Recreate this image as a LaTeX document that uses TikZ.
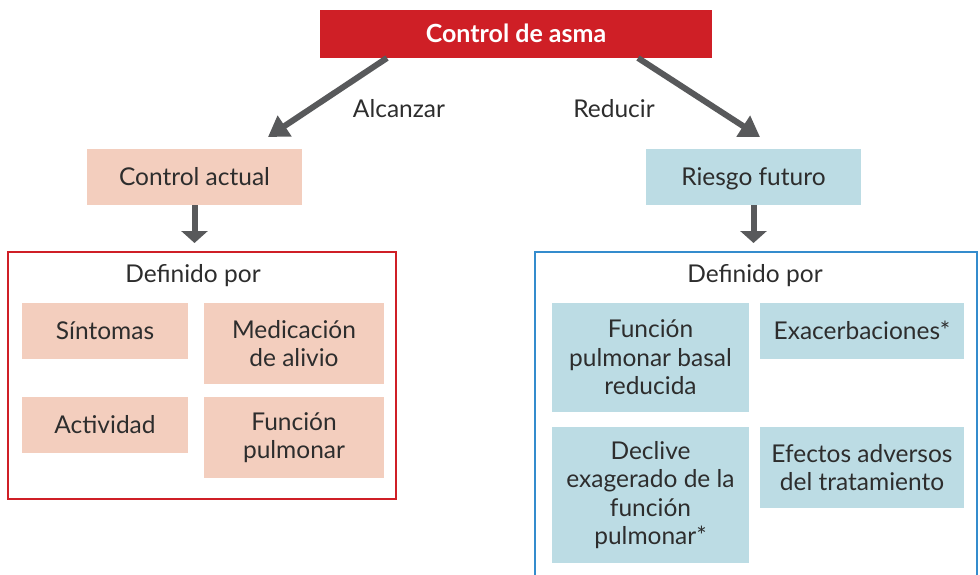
\documentclass[tikz,border=0pt]{standalone}
\usepackage{fontspec}
\setmainfont{Lato}
\usetikzlibrary{arrows.meta}
\definecolor{titlered}{RGB}{207,31,38}
\definecolor{peach}{RGB}{243,206,190}
\definecolor{lblue}{RGB}{188,220,228}
\definecolor{frameblue}{RGB}{52,140,205}
\definecolor{arrgray}{RGB}{88,89,91}
\definecolor{txt}{RGB}{45,45,45}
\begin{document}
\begin{tikzpicture}[x=1pt,y=-1pt,
  every node/.style={inner sep=0pt, outer sep=0pt, text=txt, font=\fontsize{24.5}{28.5}\selectfont, align=center},
  oneline/.style={text height=17.6pt, text depth=0.5pt},
  pbox/.style={fill=peach, draw=none},
  bbox/.style={fill=lblue, draw=none},
  diag/.style={draw=arrgray, line width=6pt, -{Triangle[width=24pt,length=20pt]}},
  down/.style={draw=arrgray, line width=6pt, -{Triangle[width=26pt,length=12pt]}}
]
\useasboundingbox (0,0) rectangle (980,575);
% title
\node[fill=titlered, minimum width=392pt, minimum height=48pt, text=white, oneline, font=\fontsize{25}{28}\selectfont\bfseries] (title) at (516,34) {Control de asma};
% level 2
\node[pbox, oneline, minimum width=215pt, minimum height=56pt] (ca) at (194.5,177) {Control actual};
\node[bbox, oneline, minimum width=215pt, minimum height=56pt] (rf) at (753.5,177) {Riesgo futuro};
% labels
\node[oneline] (alc) at (399,109) {Alcanzar};
\node[oneline] (red) at (614,109) {Reducir};
% diagonal arrows
\coordinate (tl) at (387,58);
\coordinate (tlend) at (268,137);
\coordinate (tr) at (638,58);
\coordinate (trend) at (760,137);
\draw[diag] (tl) -- (tlend);
\draw[diag] (tr) -- (trend);
% frames
\node[draw=titlered, line width=2.2pt, minimum width=388pt, minimum height=247pt] (lf) at (202,375.5) {};
\coordinate (rfa) at (535,580);
\coordinate (rfb) at (535,252);
\coordinate (rfc) at (977,252);
\coordinate (rfd) at (977,580);
\draw[frameblue, line width=2.2pt] (rfa) -- (rfb) -- (rfc) -- (rfd);
\coordinate (rftop) at (757,252);
% down arrows
\draw[down] (ca.south) -- ([yshift=9pt]lf.north -| ca.south);
\draw[down] (rf.south) -- ([yshift=9pt]rftop -| rf.south);
% Definido por
\node[oneline] (dl) at (193,274) {Definido por};
\node[oneline] (dr) at (755,274) {Definido por};
% left boxes
\node[pbox, oneline, minimum width=166pt, minimum height=56pt] (sin) at (105,331) {Síntomas};
\node[pbox, minimum width=180pt, minimum height=81pt] (med) at (294,343.5) {Medicación\\de alivio};
\node[pbox, oneline, minimum width=166pt, minimum height=56pt] (act) at (105,425) {Actividad};
\node[pbox, minimum width=180pt, minimum height=81pt] (fp) at (294,437.5) {Función\\pulmonar};
% right boxes
\node[bbox, minimum width=197pt, minimum height=109pt] (fpb) at (650.5,357.5) {Función\\pulmonar basal\\reducida};
\node[bbox, oneline, minimum width=204pt, minimum height=56pt] (exa) at (862,331) {Exacerbaciones*};
\node[bbox, minimum width=197pt, minimum height=136pt] (dec) at (650.5,495) {Declive\\exagerado de la\\función\\pulmonar*};
\node[bbox, minimum width=204pt, minimum height=81pt] (efe) at (862,467.5) {Efectos adversos\\del tratamiento};
\end{tikzpicture}
\end{document}
